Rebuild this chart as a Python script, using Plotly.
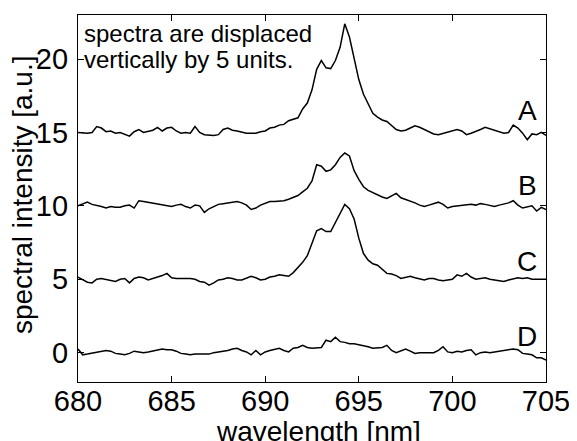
import numpy as np
import plotly.graph_objects as go

# wavelength grid (nm), 0.25 nm sampling
wavelength = np.linspace(680, 705, 101)

spec_A = [15.0, 14.95, 14.95, 15.0, 15.4, 15.3, 15.05, 15.1, 14.95, 15.0,
          14.9, 14.75, 15.05, 15.2, 15.0, 15.1, 15.15, 15.35, 15.1, 15.3,
          15.35, 15.1, 14.95, 15.0, 14.95, 15.4, 15.0, 14.85, 14.8, 14.8,
          14.85, 15.2, 15.3, 15.15, 15.1, 15.0, 14.95, 14.95, 14.95, 15.05,
          15.1, 15.3, 15.35, 15.5, 15.55, 15.8, 15.9, 16.0, 16.6, 17.0,
          17.9, 19.3, 19.9, 19.4, 19.35, 19.9, 20.8, 22.4, 21.5, 20.1,
          18.6, 17.6, 16.9, 16.3, 16.05, 15.85, 15.75, 15.45, 15.2, 15.1,
          15.15, 15.3, 15.45, 15.35, 15.2, 15.05, 14.9, 14.85, 14.95, 15.05,
          15.1, 15.2, 15.1, 14.85, 14.95, 15.05, 15.2, 15.35, 15.25, 15.1,
          15.05, 14.95, 15.0, 15.5, 15.3, 14.95, 14.5, 14.9, 14.85, 15.0,
          14.8]

spec_B = [10.0, 10.15, 10.25, 10.1, 10.05, 9.95, 9.85, 9.95, 9.9, 9.9,
          10.0, 10.05, 9.85, 10.35, 10.3, 10.25, 10.2, 10.15, 10.05, 10.0,
          9.95, 10.05, 10.1, 9.95, 9.85, 10.05, 10.0, 9.55, 9.8, 9.95,
          10.1, 10.15, 10.2, 10.2, 10.3, 10.2, 10.05, 9.75, 9.85, 10.05,
          10.2, 10.3, 10.3, 10.3, 10.35, 10.45, 10.55, 10.7, 10.95, 11.2,
          11.7, 12.8, 12.7, 12.35, 12.45, 12.8, 13.3, 13.6, 13.4, 12.4,
          11.8, 11.3, 11.05, 10.9, 10.7, 10.6, 10.5, 10.7, 10.85, 10.55,
          10.45, 10.35, 10.2, 10.05, 9.95, 10.05, 10.15, 10.25, 10.1, 9.85,
          9.95, 10.0, 10.05, 10.05, 10.1, 10.05, 10.15, 10.1, 10.0, 9.95,
          10.05, 10.1, 10.2, 10.35, 10.05, 9.85, 9.95, 10.0, 9.65, 9.9,
          9.75]

spec_C = [5.15, 4.95, 4.8, 4.75, 5.0, 5.05, 5.0, 4.95, 4.85, 5.0,
          5.05, 4.75, 5.05, 5.15, 5.1, 4.95, 5.05, 5.1, 5.25, 5.4,
          5.1, 5.05, 5.05, 5.1, 5.05, 5.0, 4.85, 4.8, 4.6, 4.75,
          4.95, 5.0, 5.1, 5.05, 4.95, 4.95, 5.1, 5.2, 5.1, 4.95,
          5.0, 5.15, 5.2, 5.3, 5.25, 5.2, 5.45, 5.8, 6.15, 6.6,
          7.4, 8.3, 8.45, 8.25, 8.25, 8.9, 9.45, 10.1, 9.8, 9.1,
          7.8, 6.75, 6.3, 6.05, 5.95, 5.7, 5.4, 5.35, 5.25, 5.05,
          5.1, 5.2, 5.1, 5.0, 4.95, 5.05, 5.05, 4.95, 4.9, 4.95,
          5.0, 5.3, 5.2, 5.4, 5.15, 5.0, 5.05, 5.1, 5.0, 4.95,
          4.95, 4.85, 4.95, 5.05, 5.1, 5.05, 5.1, 5.0, 5.0, 4.95,
          5.0]

spec_D = [0.25, -0.15, -0.1, -0.05, 0.0, 0.05, 0.15, 0.1, -0.05, -0.1,
          -0.15, -0.05, 0.1, 0.05, 0.0, 0.05, 0.1, 0.15, 0.25, 0.2,
          0.2, 0.1, -0.05, -0.1, -0.15, -0.1, -0.1, -0.15, -0.1, 0.0,
          0.05, 0.05, 0.15, 0.25, 0.3, 0.15, 0.05, -0.15, 0.15, -0.15,
          0.05, 0.15, 0.2, 0.3, 0.15, 0.05, 0.3, 0.35, 0.5, 0.35,
          0.3, 0.3, 0.35, 0.85, 0.75, 1.05, 0.75, 0.7, 0.6, 0.6,
          0.55, 0.45, 0.4, 0.3, 0.3, 0.35, 0.5, 0.15, 0.0, 0.1,
          0.25, 0.1, -0.05, 0.0, 0.0, 0.05, 0.0, 0.15, 0.4, 0.05,
          0.0, 0.1, 0.05, 0.15, 0.2, -0.15, 0.0, 0.05, 0.0, 0.05,
          0.1, 0.15, 0.15, 0.25, 0.2, -0.05, -0.1, -0.15, -0.35, -0.35,
          -0.5]

series_names = ["A", "B", "C", "D"]
series_values = [spec_A, spec_B, spec_C, spec_D]
label_x = 704.0
label_y = [16.5, 11.4, 6.2, 1.1]

x_ticks = [680, 685, 690, 695, 700, 705]
y_ticks = [0, 5, 10, 15, 20]

FONT = "Liberation Sans, Arial, sans-serif"

fig = go.Figure()
for name, vals in zip(series_names, series_values):
    fig.add_trace(go.Scatter(x=wavelength, y=vals, mode="lines", name=name,
                             line=dict(color="black", width=1.5),
                             showlegend=False))

for name, ly in zip(series_names, label_y):
    fig.add_annotation(x=label_x, y=ly, text=name, showarrow=False,
                       xanchor="center", yanchor="middle",
                       font=dict(family=FONT, size=28, color="black"))

fig.add_annotation(x=680, y=21.75, text="spectra are displaced", showarrow=False,
                   xanchor="left", yanchor="middle", xshift=4,
                   font=dict(family=FONT, size=24, color="black"))
fig.add_annotation(x=680, y=19.95, text="vertically by 5 units.", showarrow=False,
                   xanchor="left", yanchor="middle", xshift=4,
                   font=dict(family=FONT, size=24, color="black"))

# axis titles placed as paper annotations
fig.add_annotation(xref="paper", yref="paper", x=0.5, y=-0.087, xshift=6,
                   text="wavelength [nm]", showarrow=False,
                   xanchor="center", yanchor="top",
                   font=dict(family=FONT, size=28, color="black"))
fig.add_annotation(xref="paper", yref="paper", x=-0.117, y=0.51,
                   text="spectral intensity [a.u.]", showarrow=False, textangle=-90,
                   xanchor="center", yanchor="middle",
                   font=dict(family=FONT, size=28, color="black"))

axis_common = dict(showline=True, linecolor="black", linewidth=1.3, mirror="ticks",
                   ticks="inside", ticklen=6, tickwidth=1.2, tickcolor="black",
                   showgrid=False, zeroline=False, automargin=False,
                   tickfont=dict(family=FONT, size=29, color="black"))

fig.update_xaxes(range=[680, 705], tickvals=x_ticks, ticklabelstandoff=-7, **axis_common)
fig.update_yaxes(range=[-2, 23], tickvals=y_ticks, ticklabelstandoff=3, **axis_common)

# the page body adds an 8 px offset, so the figure is sized to fill the rest
fig.update_layout(width=569, height=433, paper_bgcolor="white", plot_bgcolor="white",
                  margin=dict(l=70, r=31, t=7, b=59),
                  font=dict(family=FONT, color="black"))

fig.write_html("out.html")
